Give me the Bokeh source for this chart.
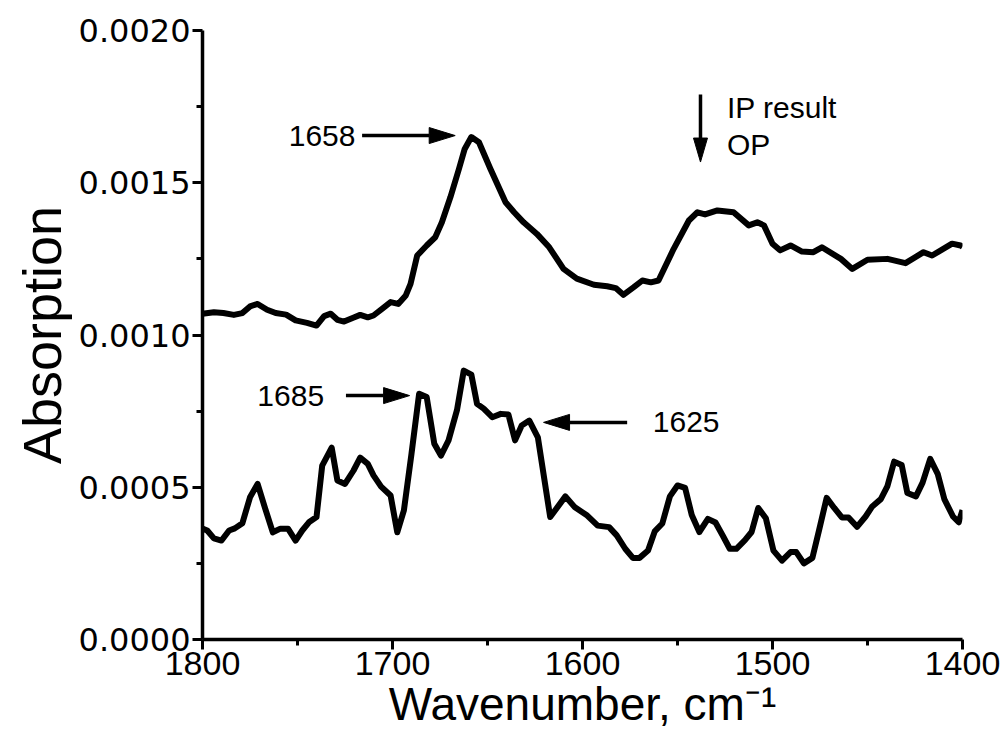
from bokeh.plotting import figure
from bokeh.models import ColumnDataSource, FixedTicker, PrintfTickFormatter, Range1d, Label
from bokeh.embed import file_html
from bokeh.resources import INLINE

# ---- spectra (wavenumber in cm^-1, absorbance) ----
ip_wn = [1800, 1794, 1789, 1783.5, 1779, 1775, 1771, 1766, 1761.5, 1756, 1751, 1745, 1740,
         1736, 1732.5, 1729, 1725.5, 1721, 1717, 1713, 1710, 1705.5, 1701, 1697, 1693,
         1690.5, 1687, 1682, 1677.5, 1674, 1669.5, 1665, 1662, 1658.5, 1654.5, 1648.5,
         1640.5, 1636, 1631, 1624, 1617.5, 1610, 1603, 1594, 1587, 1582.5, 1578.5, 1573,
         1568.5, 1564, 1560, 1552, 1544, 1539.5, 1535.5, 1529, 1520.5, 1512.5, 1508,
         1504.5, 1500, 1496, 1490.5, 1484.5, 1478.5, 1474, 1464, 1458, 1450, 1439.5,
         1430, 1420.5, 1416, 1405.5, 1401, 1400]
ip_abs = [10.70, 10.75, 10.72, 10.66, 10.72, 10.94, 11.02, 10.83, 10.72, 10.67, 10.48, 10.40,
          10.31, 10.62, 10.70, 10.50, 10.44, 10.56, 10.66, 10.58, 10.64, 10.86, 11.08, 11.02,
          11.30, 11.68, 12.61, 12.94, 13.21, 13.70, 14.53, 15.46, 16.11, 16.50, 16.33, 15.46,
          14.36, 14.03, 13.70, 13.32, 12.88, 12.17, 11.85, 11.65, 11.60, 11.54, 11.32, 11.57,
          11.79, 11.73, 11.79, 12.83, 13.76, 14.03, 13.96, 14.09, 14.03, 13.60, 13.70,
          13.60, 13.00, 12.78, 12.94, 12.74, 12.72, 12.88, 12.50, 12.17, 12.47, 12.50,
          12.36, 12.72, 12.61, 13.00, 12.94, 12.90]

op_wn = [1800, 1797.5, 1794, 1790, 1786, 1783, 1779, 1775, 1771, 1767, 1763, 1759, 1755,
         1751, 1747.5, 1744, 1740, 1737, 1732, 1729, 1725, 1720.5, 1717, 1713, 1710, 1706,
         1701, 1697.5, 1694, 1690, 1686, 1682, 1678, 1674.5, 1670.5, 1666, 1662.5, 1658.5,
         1655.5, 1652, 1647.5, 1643, 1639, 1635.5, 1632, 1628, 1623.5, 1617, 1609, 1604,
         1597.5, 1592, 1586, 1582, 1577.5, 1573.5, 1570, 1565.5, 1562, 1558, 1554, 1550,
         1546, 1542.5, 1538.5, 1534, 1530, 1526, 1522.5, 1519, 1514.5, 1511, 1507.5,
         1503.5, 1499.5, 1495, 1490.5, 1487.5, 1483.5, 1479, 1475.5, 1471.5, 1467.5,
         1463.5, 1460, 1455.5, 1451, 1447.5, 1443, 1439.5, 1436, 1432, 1429, 1424.5, 1421,
         1417, 1413, 1409.5, 1405, 1402, 1400]
op_abs = [3.64, 3.58, 3.32, 3.25, 3.58, 3.65, 3.82, 4.67, 5.11, 4.30, 3.52, 3.64, 3.64,
          3.25, 3.58, 3.85, 4.02, 5.71, 6.30, 5.22, 5.11, 5.55, 5.97, 5.77, 5.39, 5.02,
          4.73, 3.52, 4.24, 6.10, 8.07, 7.96, 6.43, 6.04, 6.54, 7.55, 8.83, 8.70,
          7.74, 7.58, 7.30, 7.41, 7.39, 6.54, 7.03, 7.19, 6.64, 4.02, 4.70, 4.34,
          4.07, 3.74, 3.69, 3.42, 2.98, 2.68, 2.68, 2.92, 3.55, 3.81, 4.70, 5.06,
          4.98, 4.09, 3.53, 3.96, 3.84, 3.39, 2.98, 2.98, 3.26, 3.53, 4.32,
          3.98, 2.92, 2.59, 2.87, 2.87, 2.50, 2.68, 3.59, 4.65, 4.32,
          4.01, 4.01, 3.70, 4.04, 4.37, 4.61, 5.04, 5.84, 5.73, 4.81, 4.70, 5.15,
          5.93, 5.43, 4.60, 4.04, 3.85, 4.25]

# axis ticks
x_ticks = [1800, 1700, 1600, 1500, 1400]
x_minor = [1750, 1650, 1550, 1450]
y_ticks = [0.0, 0.0005, 0.0010, 0.0015, 0.0020]
y_minor = [0.00025, 0.00075, 0.00125, 0.00175]

# peak annotations: (text, label x, label y, align, arrow tail x, tail y, tip x, tip y)
peak_notes = [
    ("1658", 1719.5, 0.001655, "right", 1716.0, 0.001655, 1667.0, 0.001655),
    ("1685", 1736.0, 0.000801, "right", 1724.5, 0.000801, 1691.0, 0.000801),
    ("1625", 1563.0, 0.000713, "left", 1576.5, 0.000713, 1620.5, 0.000713),
]
# direction marker from the IP spectrum down to the OP spectrum
order_arrow = (1537.9, 0.001790, 1537.9, 0.001568)
order_text = [("IP result", 1524.0, 0.001746), ("OP", 1524.0, 0.001624)]

FONT = "Liberation Sans"
X_LO, X_HI = 1800, 1400
Y_LO, Y_HI = 0.0, 0.002
FRAME_W, FRAME_H = 760, 609

p = figure(width=1008, height=745,
           x_range=Range1d(X_LO, X_HI), y_range=Range1d(Y_LO, Y_HI),
           output_backend="svg", toolbar_location=None,
           min_border_left=202, min_border_right=46,
           min_border_top=30, min_border_bottom=106)
p.background_fill_color = "white"
p.border_fill_color = "white"
p.outline_line_color = None
p.xgrid.visible = False
p.ygrid.visible = False

ip_src = ColumnDataSource(dict(x=ip_wn, y=[v * 1e-4 for v in ip_abs]))
op_src = ColumnDataSource(dict(x=op_wn, y=[v * 1e-4 for v in op_abs]))
for src in (ip_src, op_src):
    p.line("x", "y", source=src, line_color="black", line_width=6, line_join="round")

# ---- axes ----
p.xaxis.ticker = FixedTicker(ticks=x_ticks, minor_ticks=x_minor)
p.yaxis.ticker = FixedTicker(ticks=y_ticks, minor_ticks=y_minor)
p.yaxis.formatter = PrintfTickFormatter(format="%.4f")
p.xaxis.axis_label = "Wavenumber, cm\u207b\u00b9"
p.yaxis.axis_label = "Absorption"
for ax in (p.xaxis, p.yaxis):
    ax.axis_line_width = 3.5
    ax.axis_line_color = "black"
    ax.major_tick_line_width = 3
    ax.major_tick_line_color = "black"
    ax.major_tick_out = 10
    ax.major_tick_in = 0
    ax.minor_tick_line_width = 3
    ax.minor_tick_line_color = "black"
    ax.minor_tick_out = 6
    ax.minor_tick_in = 0
    ax.major_label_text_color = "black"
    ax.major_label_standoff = 2
    ax.axis_label_text_font = FONT
    ax.axis_label_text_font_style = "normal"
    ax.axis_label_text_color = "black"
p.xaxis.major_label_text_font = FONT
p.xaxis.major_label_text_font_size = "34px"
p.yaxis.major_label_text_font = "DejaVu Sans"
p.yaxis.major_label_text_font_size = "32px"
p.xaxis.axis_label_text_font_size = "46px"
p.xaxis.axis_label_standoff = 0
p.yaxis.axis_label_text_font_size = "54px"
p.yaxis.axis_label_standoff = 4

# ---- arrows: shaft + filled head, head size given in screen pixels ----
sx = FRAME_W / abs(X_HI - X_LO)
sy = FRAME_H / (Y_HI - Y_LO)


def to_px(x, y):
    return (X_LO - x) * sx, (y - Y_LO) * sy


def to_data(px, py):
    return X_LO - px / sx, Y_LO + py / sy


def draw_arrow(x0, y0, x1, y1, head_len=26, head_half=8, width=3.5):
    ax0, ay0 = to_px(x0, y0)
    ax1, ay1 = to_px(x1, y1)
    dx, dy = ax1 - ax0, ay1 - ay0
    n = (dx * dx + dy * dy) ** 0.5
    ux, uy = dx / n, dy / n
    bx, by = ax1 - ux * head_len, ay1 - uy * head_len
    c1 = to_data(bx - uy * head_half, by + ux * head_half)
    c2 = to_data(bx + uy * head_half, by - ux * head_half)
    base = to_data(bx, by)
    p.segment(x0=[x0], y0=[y0], x1=[base[0]], y1=[base[1]],
              line_color="black", line_width=width)
    p.patch([c1[0], x1, c2[0]], [c1[1], y1, c2[1]],
            fill_color="black", line_color="black", line_width=1)


for text, lx, ly, align, tx, ty, hx, hy in peak_notes:
    draw_arrow(tx, ty, hx, hy)
    p.add_layout(Label(x=lx, y=ly, text=text, text_font=FONT, text_font_size="30px",
                       text_align=align, text_baseline="middle", text_color="black"))

draw_arrow(*order_arrow, head_len=24, head_half=7)
for text, lx, ly in order_text:
    p.add_layout(Label(x=lx, y=ly, text=text, text_font=FONT, text_font_size="30px",
                       text_align="left", text_baseline="middle", text_color="black"))

open("out.html", "w").write(file_html(p, INLINE))
